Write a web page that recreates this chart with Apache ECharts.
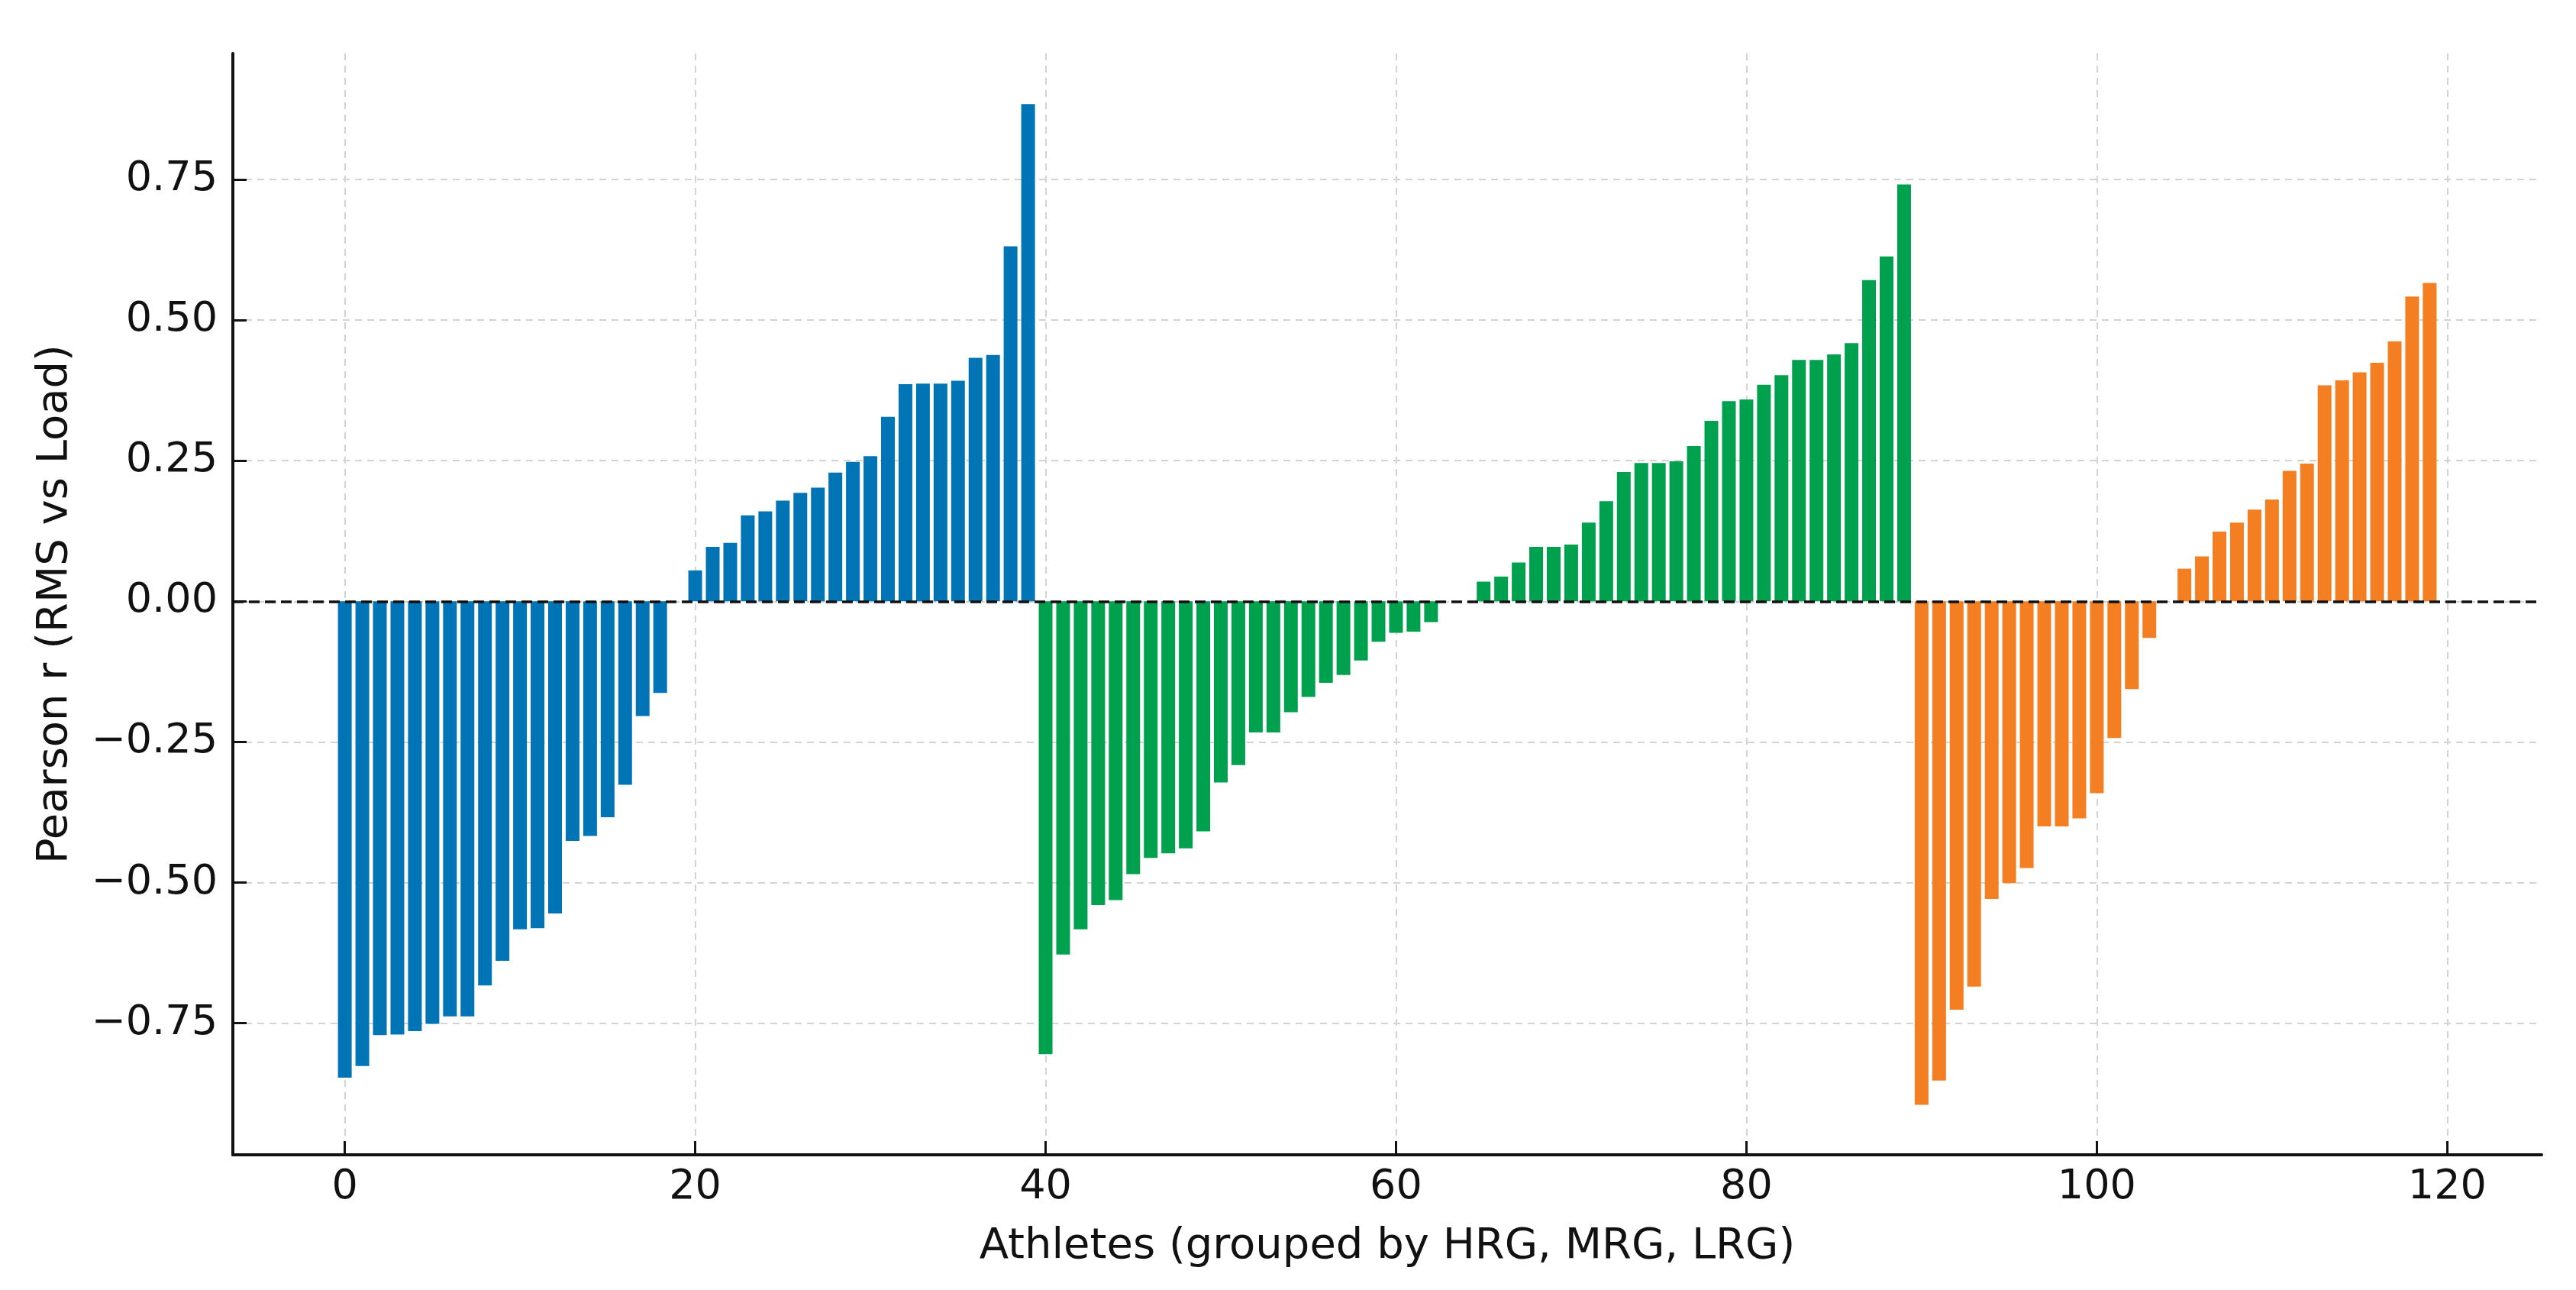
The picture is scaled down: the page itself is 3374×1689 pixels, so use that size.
<!DOCTYPE html>
<html>
<head>
<meta charset="utf-8">
<script src="https://cdn.jsdelivr.net/npm/echarts@6/dist/echarts.min.js"></script>
<style>
html,body{margin:0;padding:0;background:#fff;}
#chart{width:3374px;height:1689px;}
</style>
</head>
<body>
<div id="chart"></div>
<script>
// Pearson r per athlete, sorted within group
const hrgStart = 0;
const hrgValues = [-0.847,-0.826,-0.771,-0.770,-0.764,-0.751,-0.738,-0.738,-0.683,-0.639,
  -0.583,-0.581,-0.555,-0.426,-0.417,-0.384,-0.326,-0.204,-0.163,0.000,
  0.055,0.097,0.104,0.153,0.160,0.179,0.193,0.202,0.229,0.248,
  0.258,0.328,0.386,0.387,0.387,0.392,0.433,0.438,0.631,0.884];
const mrgStart = 40;
const mrgValues = [-0.805,-0.628,-0.583,-0.540,-0.531,-0.485,-0.456,-0.448,-0.439,-0.409,
  -0.322,-0.291,-0.233,-0.233,-0.197,-0.170,-0.145,-0.131,-0.105,-0.072,
  -0.056,-0.054,-0.037,0.000,0.000,0.035,0.044,0.069,0.097,0.097,
  0.101,0.140,0.178,0.230,0.246,0.246,0.249,0.276,0.321,0.356,
  0.359,0.385,0.402,0.429,0.429,0.439,0.459,0.571,0.613,0.741];
const lrgStart = 90;
const lrgValues = [-0.895,-0.852,-0.726,-0.685,-0.529,-0.501,-0.474,-0.400,-0.400,-0.386,
  -0.341,-0.243,-0.156,-0.065,0.000,0.058,0.080,0.124,0.140,0.163,
  0.181,0.232,0.245,0.384,0.393,0.407,0.424,0.462,0.542,0.566];
const xTicks = [0,20,40,60,80,100,120];
const yTicks = [-0.75,-0.5,-0.25,0,0.25,0.5,0.75];

function toPairs(start, vals){ return vals.map((v,i)=>[start+i, v]); }

const FONT = 'DejaVu Sans';
const chart = echarts.init(document.getElementById('chart'), null, {renderer:'canvas'});
const gridLine = {show:true, lineStyle:{color:'#d3d3d3', width:2, type:[9,7]}};
const barW = 18;

chart.setOption({
  backgroundColor:'#ffffff',
  animation:false,
  grid:{left:305, right:45, top:70, bottom:177, containLabel:false},
  xAxis:{
    type:'value', min:-6.39, max:125.39,
    name:'Athletes (grouped by HRG, MRG, LRG)', nameLocation:'middle', nameGap:92,
    nameTextStyle:{fontFamily:FONT, fontSize:56, color:'#111'},
    axisLine:{show:true, onZero:false, lineStyle:{color:'#111', width:4}},
    axisTick:{show:true, inside:true, length:18, lineStyle:{color:'#111', width:3}, customValues:xTicks},
    axisLabel:{show:true, customValues:xTicks, margin:16, fontFamily:FONT, fontSize:54, color:'#111'},
    splitLine:gridLine
  },
  yAxis:{
    type:'value', min:-0.984, max:0.974,
    name:'Pearson r (RMS vs Load)', nameLocation:'middle', nameGap:205,
    nameTextStyle:{fontFamily:FONT, fontSize:56, color:'#111'},
    axisLine:{show:true, onZero:false, lineStyle:{color:'#111', width:4}},
    axisTick:{show:true, inside:true, length:18, lineStyle:{color:'#111', width:3}, customValues:yTicks},
    axisLabel:{show:true, customValues:yTicks, margin:20, fontFamily:FONT, fontSize:54, color:'#111',
      formatter:v=>(v<0?'\u2212':'')+Math.abs(v).toFixed(2)},
    splitLine:gridLine
  },
  series:[
    {type:'bar', name:'HRG', data:toPairs(hrgStart,hrgValues), barWidth:barW, barGap:'-100%',
      itemStyle:{color:'#0174B6'}, z:2},
    {type:'bar', name:'MRG', data:toPairs(mrgStart,mrgValues), barWidth:barW, barGap:'-100%',
      itemStyle:{color:'#00A14E'}, z:2},
    {type:'bar', name:'LRG', data:toPairs(lrgStart,lrgValues), barWidth:barW, barGap:'-100%',
      itemStyle:{color:'#F47F22'}, z:2,
      markLine:{silent:true, symbol:['none','none'], label:{show:false},
        lineStyle:{color:'#111', width:3.5, type:[14,7]},
        data:[{yAxis:0}], z:5}}
  ]
});
</script>
</body>
</html>
